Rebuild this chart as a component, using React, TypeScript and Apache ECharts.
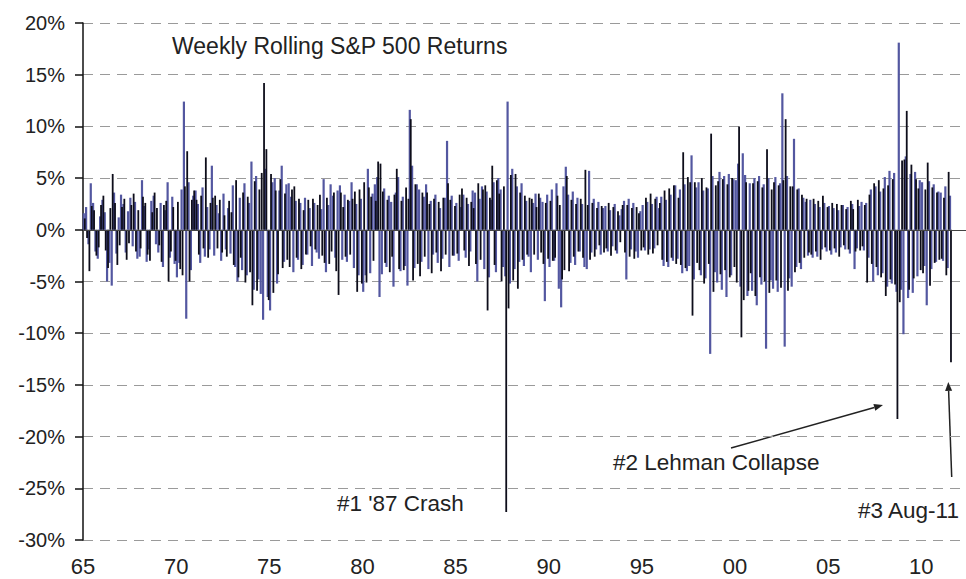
import React, { useEffect, useRef } from "react";
import * as echarts from "echarts";

// Weekly rolling S&P 500 returns (%): 8 readings per year
// for the blue trace and 8 for the black trace (black sits half a step later).
const START_YEAR = 1965;
const READINGS_PER_YEAR = 8;

const blue1965to1969 = [
  1.6, 2.2, -1.4, 4.5, 2.6, -2.1, -2.8, 1.3,
  2.9, 1.7, -5.0, -3.2, -5.4, 3.6, -2.3, 1.2,
  3.4, 2.5, -2.2, 1.8, 3.1, -1.6, 2.7, -2.8,
  -2.6, 4.8, 2.3, -3.1, -1.9, 2.8, 3.3, -1.4,
  -2.2, 2.6, -3.6, 1.9, 4.6, -2.7, 3.2, -3.3,
];
const black1965to1969 = [
  1.1, -0.8, -4.0, 2.3, 1.9, -2.5, -1.7, 2.4,
  3.3, -2.0, -3.7, 2.1, 5.4, 2.6, -3.4, -1.5,
  2.2, 3.0, -2.9, -1.3, 2.4, 3.5, -2.1, 1.9,
  -1.8, 3.2, 2.6, -2.4, -3.0, 1.7, 3.6, 2.1,
  -1.5, -3.1, 2.4, 2.8, -5.0, -2.1, 2.2, -3.0,
];

const blue1970s = [
  -4.6, -3.2, 3.9, 12.4, -8.6, 4.6, -3.9, 3.3,
  3.8, 2.5, -3.2, 4.1, -2.6, 2.2, -1.9, 6.2,
  -2.5, 2.4, 1.6, -3.0, 3.5, -1.9, 2.1, -2.3,
  4.3, -3.6, -5.0, 3.1, -3.9, 4.5, -4.4, 2.6,
  6.6, -5.8, 5.2, -4.8, -6.2, -8.7, 5.9, -6.5,
  -7.8, 4.6, 5.0, -5.2, 3.8, 6.2, -3.1, 4.4,
  4.5, 3.2, -4.1, 2.8, -2.9, 2.6, -3.4, 3.1,
  -2.4, 2.1, -3.5, 2.6, -2.2, -2.8, 2.0, 4.9,
  -4.1, 2.4, 4.4, 3.3, -2.7, 3.8, 4.3, -2.9,
  3.4, -3.1, 2.8, 4.6, -3.7, 2.5, -4.4, 3.0,
];
const black1970s = [
  2.7, -3.8, -4.4, 4.2, 7.6, -5.0, 2.9, 3.8,
  2.9, -2.4, 3.3, -1.8, 7.0, -2.7, 2.6, 3.1,
  3.3, -1.8, 2.9, -2.2, 1.4, -2.6, 2.8, 1.7,
  -3.4, 4.8, -4.6, -2.7, 3.6, -5.1, 3.2, -4.1,
  -7.3, 4.7, -5.9, 3.9, 5.5, 14.2, 7.8, -6.8,
  5.4, -6.1, 3.8, -4.3, 4.9, -3.7, 3.5, -2.9,
  -3.6, 3.9, 4.2, -2.7, 3.0, -3.8, 1.9, -2.4,
  2.9, -1.6, 3.0, -1.9, 2.4, 3.4, -2.5, -3.2,
  3.1, -3.3, -2.1, 3.6, -4.0, -6.3, 3.6, 2.2,
  -2.6, 2.9, -2.4, 3.0, 3.7, -6.0, 3.9, -5.2,
];

const blue1980s = [
  -6.0, -4.4, 5.9, -4.2, 3.5, 4.4, 5.1, -6.5,
  -4.3, 4.0, -3.6, 3.3, 2.7, -5.5, 3.6, 5.1,
  -4.0, 3.2, -3.5, -5.4, 11.6, 6.2, -3.7, 4.4,
  3.9, -3.1, 3.2, 4.4, -3.8, 2.8, -2.4, 3.4,
  -3.2, 2.1, -2.8, 3.1, 8.6, -3.6, 3.3, -2.5,
  2.6, -3.0, 2.2, 3.4, -2.7, 2.5, -2.1, 3.8,
  3.6, -5.0, 3.0, 4.2, -3.8, 3.7, -4.6, 2.9,
  4.6, -4.1, 5.0, 3.9, -3.6, -4.5, 12.4, -5.2,
  5.9, -3.8, 4.2, -3.1, 4.5, -3.5, 2.8, -2.6,
  -4.1, 2.6, 3.5, -2.9, 3.1, 2.7, -6.9, 3.4,
];
const black1980s = [
  4.6, -5.1, 4.1, 3.2, -3.0, 2.8, 6.6, 6.4,
  3.7, -3.2, 2.9, -4.1, -2.6, 3.4, 5.9, -3.8,
  2.8, -3.9, 4.1, 3.0, 10.7, -4.9, 4.4, -3.3,
  -4.5, 3.6, -2.6, 3.6, 2.5, -4.2, 3.0, -2.2,
  2.7, -4.0, 3.1, -2.4, 4.5, 2.9, -2.5, 2.3,
  -2.3, 3.4, 4.0, -2.0, 3.1, -3.5, 2.7, 2.1,
  -3.3, 4.5, -2.9, 3.9, 4.3, -7.8, 3.1, 6.2,
  -3.4, 4.8, 3.5, -5.0, 4.2, -27.3, -7.6, 5.3,
  -4.9, 5.4, -5.7, 3.6, -2.9, 3.3, -2.4, 3.1,
  3.0, -2.4, 2.2, 3.5, -2.2, -3.3, 2.6, -2.8,
];

const blue1990s = [
  -3.6, 3.9, -3.0, 4.5, -5.7, -7.5, 4.2, 6.1,
  3.4, -3.2, 3.7, -3.4, 3.1, -2.1, 2.5, -3.6,
  -3.8, 5.7, -2.2, 3.0, -1.9, 2.7, -2.4, 2.1,
  2.3, -2.1, 1.9, -1.6, 2.5, -2.3, 1.4, 2.0,
  2.8, -4.8, 3.0, -1.9, 2.6, -2.1, -2.7, 1.8,
  2.4, -2.0, 2.7, -1.9, 2.5, -1.8, 3.2, 2.1,
  3.2, -3.5, 2.9, -3.6, 3.4, -3.0, 4.3, -2.8,
  3.9, -4.2, 4.4, -4.0, -3.5, 7.2, -4.8, 4.1,
  4.6, -4.4, 3.8, -4.7, 4.0, -12.0, 5.2, -4.1,
  -5.1, 5.6, -5.8, 5.2, -6.5, 5.4, -4.4, 4.9,
];
const black1990s = [
  2.8, -3.0, -2.7, 3.3, 2.4, -4.8, -3.9, 5.2,
  -4.0, 2.9, -2.6, 2.5, -2.1, 3.0, -2.7, 5.8,
  2.4, -2.9, 2.6, -2.6, 2.1, -1.5, 2.3, -2.2,
  -1.8, 2.6, -2.5, 2.2, -2.0, 1.8, -1.2, 2.4,
  -2.2, 2.4, -2.6, 2.1, -2.8, 2.2, 1.6, -2.0,
  -1.7, 3.1, -2.4, 3.5, -2.3, 3.0, -1.5, 2.6,
  -2.9, 3.8, -3.1, 4.0, -2.7, 4.3, -3.3, 3.1,
  -3.4, 7.5, -3.7, 5.1, 4.6, -8.3, 4.6, -3.2,
  -3.9, 5.0, -5.2, 4.1, -3.3, 9.3, -6.0, 4.3,
  4.7, -4.3, 4.9, -3.9, 4.4, -4.6, 5.0, -3.6,
];

const blue2000to2011 = [
  4.8, 6.4, -5.5, 7.4, 5.3, -6.4, 4.5, -5.9,
  5.0, -7.3, 5.2, -5.3, 4.4, -11.5, 5.0, -4.9,
  -5.7, 5.1, -6.0, 4.5, 13.2, -11.3, 5.2, -4.7,
  -5.5, 8.8, -3.6, 4.0, -3.8, 3.1, 2.7, -2.5,
  2.9, -2.7, 2.5, -2.6, 2.2, -1.9, 2.6, -2.1,
  2.3, -2.4, 2.1, -2.2, 1.9, -1.7, 2.4, -1.9,
  2.2, -2.3, 2.5, -3.8, -1.8, 2.3, 2.7, -2.0,
  2.6, -2.7, 3.9, -5.0, 4.2, -4.4, 3.7, -4.2,
  5.1, -5.5, 5.7, -5.2, 5.5, -6.0, 18.1, -5.8,
  -10.1, 7.1, -6.6, 5.4, -6.1, 5.6, -4.5, 4.8,
  4.6, -3.5, -7.3, 4.7, -3.8, 4.4, -3.1, 3.7,
  3.6, -3.0, 4.2, -3.7, 3.3,
];
const black2000to2011 = [
  -5.1, 10.0, -10.4, -6.8, 4.6, -5.9, -4.2, 4.5,
  -6.4, 4.7, -4.6, 4.1, -5.0, 7.8, -6.1, 3.9,
  4.6, -4.9, 4.3, -5.6, 4.8, 10.7, -5.9, 4.2,
  4.2, -4.1, 3.9, -3.2, 3.4, -2.7, 3.0, -2.2,
  -2.4, 3.0, -2.1, 2.8, -2.9, 3.3, -1.7, 2.2,
  -2.0, 2.6, -1.8, 2.5, -2.6, 2.4, -1.5, 2.0,
  -1.9, 2.8, 2.0, -2.1, 2.9, -2.0, -1.6, 2.4,
  -5.1, 3.4, -3.3, 4.5, -3.6, 4.8, -4.6, 4.0,
  -6.4, 4.3, -4.8, 4.9, -5.3, -18.3, -7.0, 6.7,
  6.8, 11.5, -5.8, 6.3, -4.7, 4.9, 4.0, -3.9,
  -4.2, 3.9, 6.5, -5.4, 4.1, -3.2, 3.6, -2.9,
  -2.8, 3.1, -4.4, 5.6, -12.8,
];

const xTickLabels = ["65", "70", "75", "80", "85", "90", "95", "00", "05", "10"];

const titleText = "Weekly Rolling S&P 500 Returns";
const crashLabel = "#1 '87 Crash";
const lehmanLabel = "#2 Lehman Collapse";
const augLabel = "#3 Aug-11";

const FONT = "'Liberation Sans', Arial, Helvetica, sans-serif";
const BLUE = "#5357a0";
const BLACK = "#0d0d1a";

export default function App() {
  const ref = useRef<HTMLDivElement>(null);

  useEffect(() => {
    if (!ref.current) return;
    const chart = echarts.init(ref.current, undefined, { renderer: "svg" });

    const toPoints = (values: number[], offset: number) =>
      values.map((v, i) => [START_YEAR + (i + offset) / READINGS_PER_YEAR, v]);

    const blueAll = [
      ...blue1965to1969,
      ...blue1970s,
      ...blue1980s,
      ...blue1990s,
      ...blue2000to2011,
    ];
    const blackAll = [
      ...black1965to1969,
      ...black1970s,
      ...black1980s,
      ...black1990s,
      ...black2000to2011,
    ];

    const textEl = (text: string, x: number, y: number, size: number) => ({
      type: "text",
      x,
      y,
      silent: true,
      style: {
        text,
        fontSize: size,
        fontFamily: FONT,
        fill: "#222",
        verticalAlign: "middle",
        align: "left",
      },
    });

    const arrow = (x1: number, y1: number, x2: number, y2: number) => {
      const dx = x2 - x1;
      const dy = y2 - y1;
      const len = Math.sqrt(dx * dx + dy * dy);
      const ux = dx / len;
      const uy = dy / len;
      const hl = 9;
      const hw = 3.5;
      const bx = x2 - ux * hl;
      const by = y2 - uy * hl;
      return [
        {
          type: "line",
          silent: true,
          shape: { x1, y1, x2: bx, y2: by },
          style: { stroke: "#222", lineWidth: 1.5 },
        },
        {
          type: "polygon",
          silent: true,
          shape: {
            points: [
              [x2, y2],
              [bx - uy * hw, by + ux * hw],
              [bx + uy * hw, by - ux * hw],
            ],
          },
          style: { fill: "#222" },
        },
      ];
    };

    chart.setOption({
      animation: false,
      backgroundColor: "#ffffff",
      grid: { left: 83, right: 0, top: 23, bottom: 39, containLabel: false },
      xAxis: {
        type: "value",
        min: 1965,
        max: 2012.4,
        interval: 5,
        axisLine: { show: false },
        axisTick: { show: false },
        splitLine: { show: false },
        axisLabel: {
          showMaxLabel: false,
          margin: 15,
          fontSize: 22,
          fontFamily: FONT,
          color: "#222",
          formatter: (v: number) => {
            const idx = Math.round((v - 1965) / 5);
            return xTickLabels[idx] ?? "";
          },
        },
      },
      yAxis: {
        type: "value",
        min: -30,
        max: 20,
        interval: 5,
        axisLine: { show: true, lineStyle: { color: "#111", width: 1.5 } },
        axisTick: { show: true, length: 8, lineStyle: { color: "#111", width: 1.5 } },
        axisLabel: {
          margin: 18,
          fontSize: 20,
          fontFamily: FONT,
          color: "#222",
          formatter: (v: number) => `${v}%`,
        },
        splitLine: {
          show: true,
          lineStyle: { color: "#9a9a9a", width: 1.2, type: [10, 7] },
        },
      },
      series: [
        {
          name: "blue",
          type: "bar",
          data: toPoints(blueAll, 0.25),
          barWidth: 2.2,
          barGap: "-100%",
          itemStyle: { color: BLUE },
          silent: true,
        },
        {
          name: "black",
          type: "bar",
          data: toPoints(blackAll, 0.75),
          barWidth: 1.8,
          barGap: "-100%",
          itemStyle: { color: BLACK },
          silent: true,
          markLine: {
            silent: true,
            symbol: "none",
            label: { show: false },
            lineStyle: { color: "#444", width: 1, type: "solid" },
            data: [{ yAxis: 0 }],
          },
        },
      ],
      graphic: [
        textEl(titleText, 172, 46, 23),
        textEl(crashLabel, 337, 503, 22.5),
        textEl(lehmanLabel, 613, 462, 22.5),
        textEl(augLabel, 858, 510, 22.5),
        ...arrow(731, 448, 883, 405),
        ...arrow(951.7, 477, 948.3, 382),
      ],
    });

    return () => chart.dispose();
  }, []);

  return (
    <div
      ref={ref}
      style={{ position: "fixed", left: 0, top: 0, width: 966, height: 579, background: "#fff" }}
    />
  );
}
